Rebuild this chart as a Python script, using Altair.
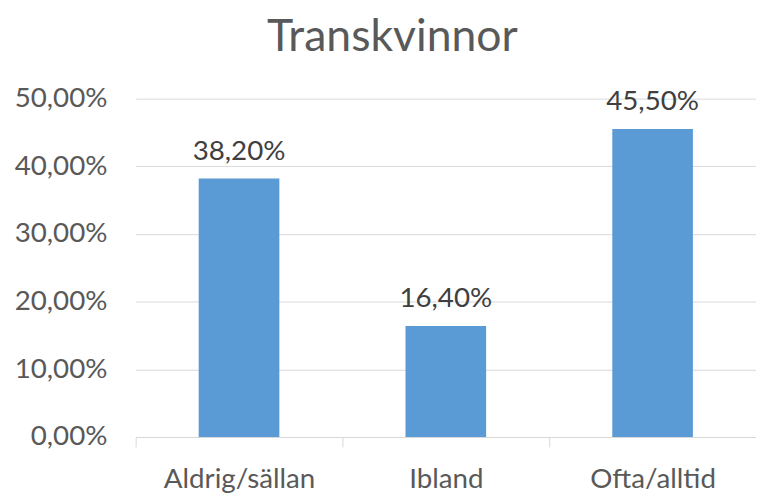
import altair as alt
import pandas as pd

categories = ["Aldrig/sällan", "Ibland", "Ofta/alltid"]
values = [38.2, 16.4, 45.5]
y_ticks = [0, 10, 20, 30, 40, 50]

df = pd.DataFrame({"cat": categories, "v": values})

FONT = "Lato"
W = 627
step = W / 3

base = alt.Chart(df).encode(
    x=alt.X("cat:N", sort=categories, title=None,
            scale=alt.Scale(paddingInner=0.61, paddingOuter=0.305),
            axis=alt.Axis(labelAngle=0, labelFont=FONT, labelFontSize=28,
                          labelColor="#595959", domainColor="#D9D9D9",
                          tickColor="#D9D9D9", tickSize=10, labelPadding=19,
                          tickOffset=-step / 2, labelOffset=step / 2,
                          grid=False)),
    y=alt.Y("v:Q", title=None,
            scale=alt.Scale(domain=[0, 50], nice=False),
            axis=alt.Axis(values=y_ticks, labelFont=FONT, labelFontSize=28,
                          labelColor="#595959", ticks=False, domain=False,
                          gridColor="#D9D9D9", labelPadding=29,
                          minExtent=129, maxExtent=129,
                          labelExpr="replace(format(datum.value, '.2f'), '.', ',') + '%'")),
)

bars = base.mark_bar(color="#5B9BD5")
labels = base.mark_text(font=FONT, fontSize=28, color="#404040",
                        baseline="alphabetic", dy=-19).encode(
    text=alt.Text("lbl:N")
).transform_calculate(
    lbl="replace(format(datum.v, '.2f'), '.', ',') + '%'"
)

chart = (bars + labels).properties(
    width=W, height=342,
    title=alt.TitleParams("Transkvinnor", font=FONT, fontSize=45,
                          fontWeight="normal", color="#595959", offset=25,
                          dx=-54),
    padding={"left": 0, "top": 5, "right": 0, "bottom": 0},
).configure_view(stroke=None)

chart.save("out.html", embed_options={"renderer": "svg", "actions": False})
